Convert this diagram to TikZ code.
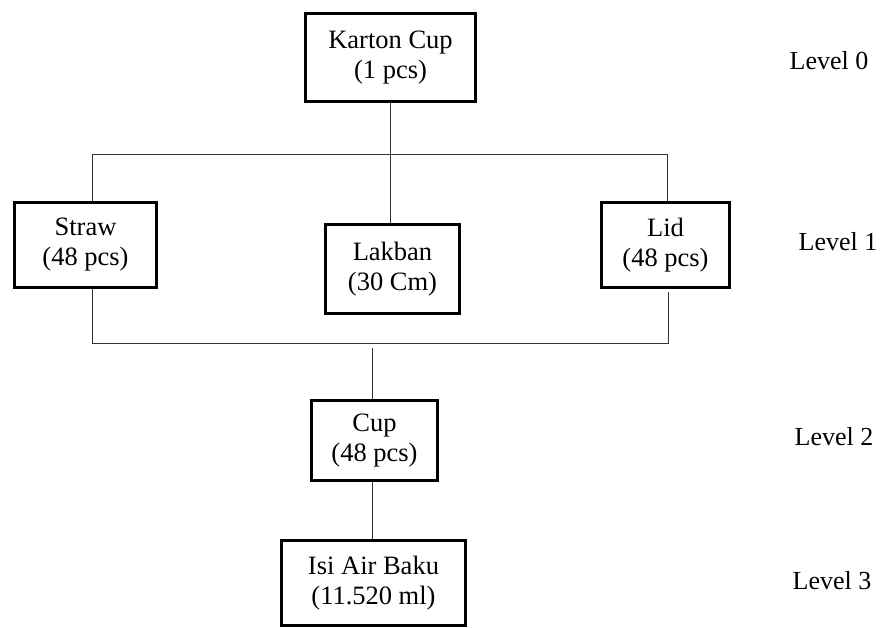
\documentclass[tikz,border=0pt]{standalone}
\usepackage{fontspec}
\setmainfont{Liberation Serif}

\begin{document}
\begin{tikzpicture}[
    x=1pt, y=-1pt,
    item/.style={draw, rectangle, line width=2.6pt, align=center, inner sep=0pt, font=\fontsize{26.5}{30}\selectfont},
    level/.style={font=\fontsize{26}{30}\selectfont},
    link/.style={line width=1pt, black!80}
]
    \useasboundingbox (0,0) rectangle (884,628);

    % Items arranged by level
    \node[item, minimum width=170pt, minimum height=88pt] (kartoncup) at (390.5,57.5) {Karton Cup\\(1 pcs)};
    \node[item, minimum width=142pt, minimum height=85pt] (straw) at (85.5,245) {Straw\\(48 pcs)};
    \node[item, minimum width=134pt, minimum height=89pt] (lakban) at (392.5,269) {Lakban\\(30 Cm)};
    \node[item, minimum width=128pt, minimum height=85pt] (lid) at (665.5,245) {Lid\\(48 pcs)};
    \node[item, minimum width=126pt, minimum height=80pt] (cup) at (374.5,440.5) {Cup\\(48 pcs)};
    \node[item, minimum width=184pt, minimum height=85pt] (isiair) at (373.5,583) {Isi Air Baku\\(11.520 ml)};

    % Junction points
    \coordinate (topL) at (92,155);
    \coordinate (topR) at (667,155);
    \coordinate (botL) at (92,344);
    \coordinate (botR) at (668,344);
    \coordinate (botM) at (372,348);

    % Connections
    \draw[link] (kartoncup.south -| 390,0) -- (lakban.north -| 390,0);
    \draw[link] (straw.north -| topL) -- (topL) -- (topR) -- (lid.north -| topR);
    \draw[link] (straw.south -| botL) -- (botL) -- (botR) -- ([yshift=-3pt]lid.south -| botR);
    \draw[link] (botM) -- (cup.north -| botM);
    \draw[link] (cup.south -| botM) -- (isiair.north -| botM);

    % Levels on right side
    \node[level] (lvl0) at (829,61) {Level 0};
    \node[level] (lvl1) at (838,242) {Level 1};
    \node[level] (lvl2) at (834,437) {Level 2};
    \node[level] (lvl3) at (832,581) {Level 3};

\end{tikzpicture}
\end{document}
